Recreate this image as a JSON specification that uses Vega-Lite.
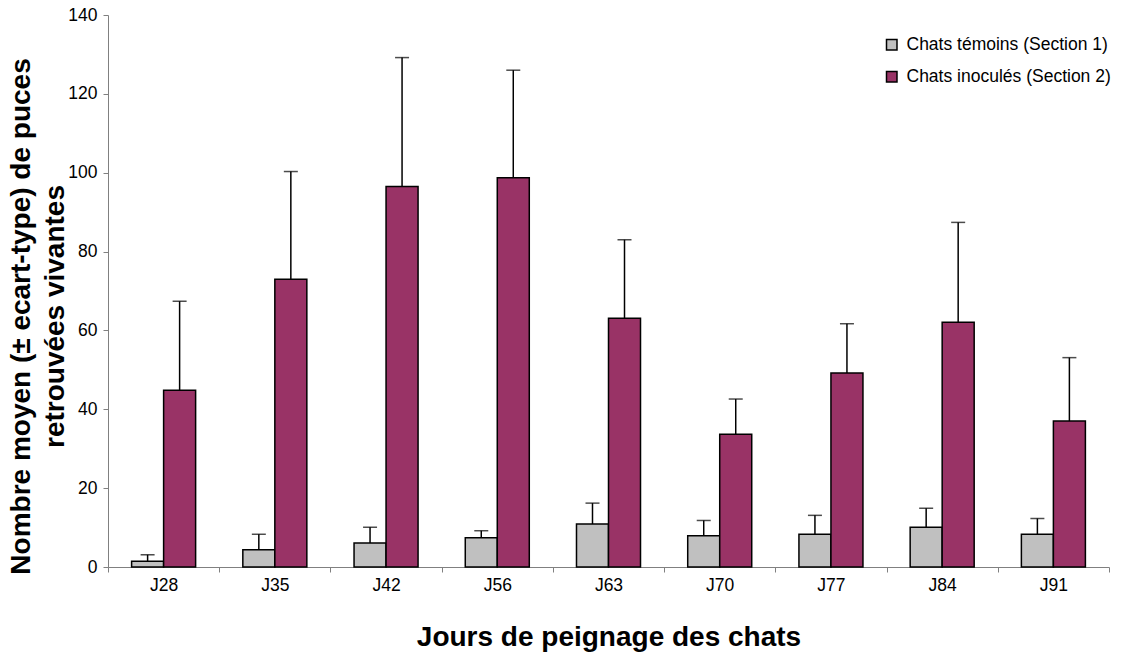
{
  "$schema": "https://vega.github.io/schema/vega-lite/v6.json",
  "width": 1001,
  "height": 552,
  "autosize": {"type": "none"},
  "padding": {"left": 108, "top": 15, "right": 16, "bottom": 87},
  "background": "white",
  "config": {"view": {"stroke": null}, "font": "Liberation Sans"},
  "data": {
    "values": [
      {"day": "J28", "group": "Chats témoins (Section 1)", "mean": 1.45, "upper": 3.1},
      {"day": "J28", "group": "Chats inoculés (Section 2)", "mean": 44.8, "upper": 67.4},
      {"day": "J35", "group": "Chats témoins (Section 1)", "mean": 4.4, "upper": 8.3},
      {"day": "J35", "group": "Chats inoculés (Section 2)", "mean": 73.0, "upper": 100.3},
      {"day": "J42", "group": "Chats témoins (Section 1)", "mean": 6.1, "upper": 10.1},
      {"day": "J42", "group": "Chats inoculés (Section 2)", "mean": 96.5, "upper": 129.2},
      {"day": "J56", "group": "Chats témoins (Section 1)", "mean": 7.4, "upper": 9.2},
      {"day": "J56", "group": "Chats inoculés (Section 2)", "mean": 98.7, "upper": 126.0},
      {"day": "J63", "group": "Chats témoins (Section 1)", "mean": 10.9, "upper": 16.2},
      {"day": "J63", "group": "Chats inoculés (Section 2)", "mean": 63.1, "upper": 83.0},
      {"day": "J70", "group": "Chats témoins (Section 1)", "mean": 7.9, "upper": 11.8},
      {"day": "J70", "group": "Chats inoculés (Section 2)", "mean": 33.7, "upper": 42.6},
      {"day": "J77", "group": "Chats témoins (Section 1)", "mean": 8.3, "upper": 13.1},
      {"day": "J77", "group": "Chats inoculés (Section 2)", "mean": 49.2, "upper": 61.7},
      {"day": "J84", "group": "Chats témoins (Section 1)", "mean": 10.1, "upper": 14.9},
      {"day": "J84", "group": "Chats inoculés (Section 2)", "mean": 62.1, "upper": 87.4},
      {"day": "J91", "group": "Chats témoins (Section 1)", "mean": 8.3, "upper": 12.3},
      {"day": "J91", "group": "Chats inoculés (Section 2)", "mean": 37.0, "upper": 53.1}
    ]
  },
  "encoding": {
    "x": {
      "field": "day",
      "type": "nominal",
      "sort": null,
      "scale": {"paddingInner": 0, "paddingOuter": 0},
      "axis": {
        "title": "Jours de peignage des chats",
        "titleFontSize": 28,
        "titleFontWeight": "bold",
        "titleColor": "black",
        "titleBaseline": "middle",
        "titleX": 500.5,
        "titleY": 70,
        "labelAngle": 0,
        "labelFontSize": 17.5,
        "labelColor": "black",
        "labelPadding": 4,
        "tickBand": "extent",
        "tickSize": 5,
        "tickColor": "#808080",
        "domainColor": "#808080",
        "grid": false
      }
    },
    "xOffset": {
      "field": "group",
      "type": "nominal",
      "sort": null,
      "scale": {"domain": ["Chats témoins (Section 1)", "Chats inoculés (Section 2)"], "paddingInner": 0, "paddingOuter": 0.7375}
    }
  },
  "layer": [
    {
      "mark": {"type": "bar", "stroke": "black", "strokeWidth": 1.5},
      "encoding": {
        "y": {
          "field": "mean",
          "type": "quantitative",
          "scale": {"domain": [0, 140]},
          "axis": {
            "title": ["Nombre moyen (± ecart-type) de puces", "retrouvées vivantes"],
            "titleFontSize": 28,
            "titleFontWeight": "bold",
            "titleColor": "black",
            "titleAngle": -90,
            "titleBaseline": "middle",
            "titleAlign": "center",
            "titleLineHeight": 34,
            "titleX": -87,
            "titleY": 301,
            "values": [0, 20, 40, 60, 80, 100, 120, 140],
            "labelFontSize": 17.5,
            "labelColor": "black",
            "labelPadding": 6,
            "tickSize": 5,
            "tickColor": "#808080",
            "domainColor": "#808080",
            "grid": false
          }
        },
        "color": {
          "field": "group",
          "type": "nominal",
          "scale": {"domain": ["Chats témoins (Section 1)", "Chats inoculés (Section 2)"], "range": ["#C0C0C0", "#993366"]},
          "legend": {
            "title": null,
            "orient": "none",
            "legendX": 775,
            "legendY": 21,
            "padding": 0,
            "labelFontSize": 17.5,
            "labelColor": "black",
            "labelLimit": 0,
            "symbolType": "square",
            "symbolSize": 110,
            "symbolStrokeColor": "black",
            "symbolStrokeWidth": 1.5,
            "rowPadding": 13,
            "labelOffset": 6
          }
        }
      }
    },
    {
      "mark": {"type": "rule", "color": "black", "strokeWidth": 1.5},
      "encoding": {
        "y": {"field": "mean", "type": "quantitative"},
        "y2": {"field": "upper"}
      }
    },
    {
      "mark": {"type": "tick", "color": "black", "thickness": 1.5, "size": 14},
      "encoding": {
        "y": {"field": "upper", "type": "quantitative"}
      }
    }
  ]
}
